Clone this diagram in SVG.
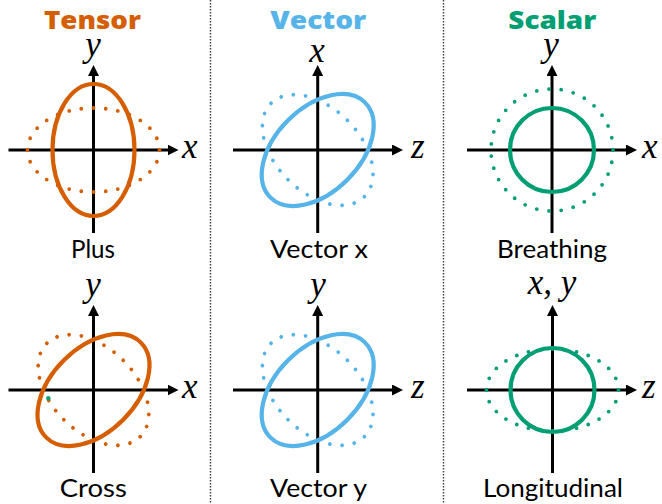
<svg xmlns="http://www.w3.org/2000/svg" width="662" height="504" viewBox="0 0 662 504">
<defs>
<style>
.ax{stroke:#000;stroke-width:3;fill:none;marker-end:url(#arr)}
.sol{fill:none;stroke-width:4.2}
.dot{fill:none;stroke-width:3.8;stroke-linecap:round;stroke-dasharray:0 1}
.t{stroke:#D55E00}.v{stroke:#56B4E9}.s{stroke:#009E73}
.title{font-family:"Open Sans","Lato",sans-serif;font-weight:800;font-size:25px;text-anchor:middle}
.lab{font-family:"Lato","Open Sans",sans-serif;font-size:25px;text-anchor:middle;fill:#000}
.var{font-family:"Liberation Serif","Times New Roman",serif;font-style:italic;font-size:35px;fill:#000}
.div{stroke:#444;stroke-width:1.5;stroke-dasharray:1.5 1.5}
</style>
<marker id="arr" markerUnits="userSpaceOnUse" markerWidth="12" markerHeight="12" refX="3" refY="5.5" orient="auto">
<path d="M0,0 L11,5.5 L0,11 z" fill="#000"/>
</marker>
</defs>
<rect width="662" height="504" fill="#fff"/>
<g id="dividers">
<line class="div" x1="210.5" y1="0" x2="210.5" y2="504"/>
<line class="div" x1="443.5" y1="0" x2="443.5" y2="504"/>
</g>
<g id="titles">
<text class="title" x="92.5" y="29" fill="#D55E00" textLength="97" lengthAdjust="spacingAndGlyphs">Tensor</text>
<text class="title" x="318.3" y="29" fill="#56B4E9" textLength="96" lengthAdjust="spacingAndGlyphs">Vector</text>
<text class="title" x="552.3" y="29" fill="#009E73" textLength="88" lengthAdjust="spacingAndGlyphs">Scalar</text>
</g>
<g id="plus">
<line class="ax" x1="8.5" y1="150" x2="170.5" y2="150"/>
<line class="ax" x1="93.5" y1="233" x2="93.5" y2="73"/>
<ellipse class="dot t" cx="93.5" cy="150" rx="66" ry="42" pathLength="28"/>
<ellipse class="sol t" cx="93.5" cy="150" rx="41" ry="66"/>
<text class="var" x="93" y="56" text-anchor="middle">y</text>
<text class="var" x="182" y="158">x</text>
<text class="lab" x="93" y="258" textLength="44" lengthAdjust="spacingAndGlyphs">Plus</text>
</g>
<g id="vectorx">
<line class="ax" x1="233" y1="150" x2="395" y2="150"/>
<line class="ax" x1="317.7" y1="233" x2="317.7" y2="73"/>
<ellipse class="dot v" cx="0" cy="0" rx="66" ry="42" pathLength="28" transform="translate(317.7 150) rotate(45)"/>
<ellipse class="sol v" cx="0" cy="0" rx="67" ry="42" transform="translate(317.7 150) rotate(-45)"/>
<text class="var" x="317" y="62" text-anchor="middle">x</text>
<text class="var" x="411" y="158">z</text>
<text class="lab" x="319" y="258" textLength="98" lengthAdjust="spacingAndGlyphs">Vector x</text>
</g>
<g id="breathing">
<line class="ax" x1="467" y1="150" x2="629" y2="150"/>
<line class="ax" x1="552" y1="233" x2="552" y2="73"/>
<circle class="dot s" cx="552" cy="150" r="61" pathLength="31"/>
<circle class="sol s" cx="552" cy="150" r="42"/>
<text class="var" x="551" y="56" text-anchor="middle">y</text>
<text class="var" x="642" y="158">x</text>
<text class="lab" x="552" y="258" textLength="110" lengthAdjust="spacingAndGlyphs">Breathing</text>
</g>
<g id="cross">
<line class="ax" x1="8.5" y1="390" x2="170.5" y2="390"/>
<line class="ax" x1="93.5" y1="473" x2="93.5" y2="313"/>
<ellipse class="dot t" cx="0" cy="0" rx="66" ry="42" pathLength="28" transform="translate(93.5 390) rotate(45)"/>
<circle cx="48.3" cy="398.3" r="2.2" fill="#009E73"/>
<ellipse class="sol t" cx="0" cy="0" rx="67" ry="42" transform="translate(93.5 390) rotate(-45)"/>
<text class="var" x="93" y="296" text-anchor="middle">y</text>
<text class="var" x="182" y="398">x</text>
<text class="lab" x="93.3" y="497" textLength="67" lengthAdjust="spacingAndGlyphs">Cross</text>
</g>
<g id="vectory">
<line class="ax" x1="233" y1="390" x2="395" y2="390"/>
<line class="ax" x1="317.7" y1="473" x2="317.7" y2="313"/>
<ellipse class="dot v" cx="0" cy="0" rx="66" ry="42" pathLength="28" transform="translate(317.7 390) rotate(45)"/>
<ellipse class="sol v" cx="0" cy="0" rx="67" ry="42" transform="translate(317.7 390) rotate(-45)"/>
<text class="var" x="318" y="296" text-anchor="middle">y</text>
<text class="var" x="411" y="398">z</text>
<text class="lab" x="318.5" y="497" textLength="97" lengthAdjust="spacingAndGlyphs">Vector y</text>
</g>
<g id="longitudinal">
<line class="ax" x1="467" y1="390" x2="629" y2="390"/>
<line class="ax" x1="552.5" y1="473" x2="552.5" y2="313"/>
<ellipse class="dot s" cx="552.5" cy="390" rx="66" ry="41" pathLength="28"/>
<circle class="sol s" cx="552.5" cy="390" r="42"/>
<text class="var" x="552" y="294" text-anchor="middle">x, y</text>
<text class="var" x="642" y="398">z</text>
<text class="lab" x="553" y="497" textLength="140" lengthAdjust="spacingAndGlyphs">Longitudinal</text>
</g>
</svg>
